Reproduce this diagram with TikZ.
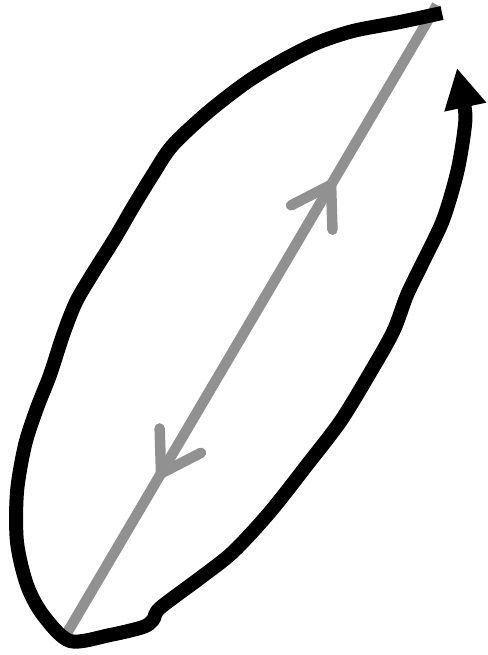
\documentclass[tikz,border=0pt]{standalone}
\usetikzlibrary{arrows.meta,decorations.markings}
\definecolor{loopGray}{RGB}{145,145,145}

\begin{document}
\begin{tikzpicture}[x=1pt, y=-1pt,
    loopline/.style={draw=black, line width=14pt, line join=round, line cap=butt,
                     -{Triangle[length=40pt, width=40pt]}},
    axisline/.style={draw=loopGray, line width=10.5pt, line cap=butt,
                     postaction={decorate}, decoration={markings,
                       mark=at position 0.721 with {\arrow{Straight Barb[round, length=38pt, width=48pt, line width=10.5pt]}},
                       mark=at position 0.247 with {\arrowreversed{Straight Barb[round, length=38pt, width=48pt, line width=10.5pt]}}}}
  ]
  \useasboundingbox (0,0) rectangle (487,655);
  % end points of the gray axis
  \coordinate (lo) at (67,633);
  \coordinate (hi) at (437,5);
  \path[axisline] (lo) -- (hi);
  % freehand loop
  \draw[loopline] plot[smooth, tension=0.5] coordinates {
    (442,13) (400,22) (353,31) (317,43) (283,60) (247,82) (207,113) (172,146)
    (152,176) (133,207) (115,238) (93,273) (76,302) (63,335) (50,375) (37,408)
    (25,445) (17,492) (17,542) (27,585) (43,615) (70,641) (110,635) (143,627)
    (153,620) (160,608) (200,578) (233,552) (270,512) (307,465) (340,422)
    (367,378) (393,332) (407,295) (423,262) (443,220) (457,173) (464,133)
    (465,110) (457,68)};
\end{tikzpicture}
\end{document}
